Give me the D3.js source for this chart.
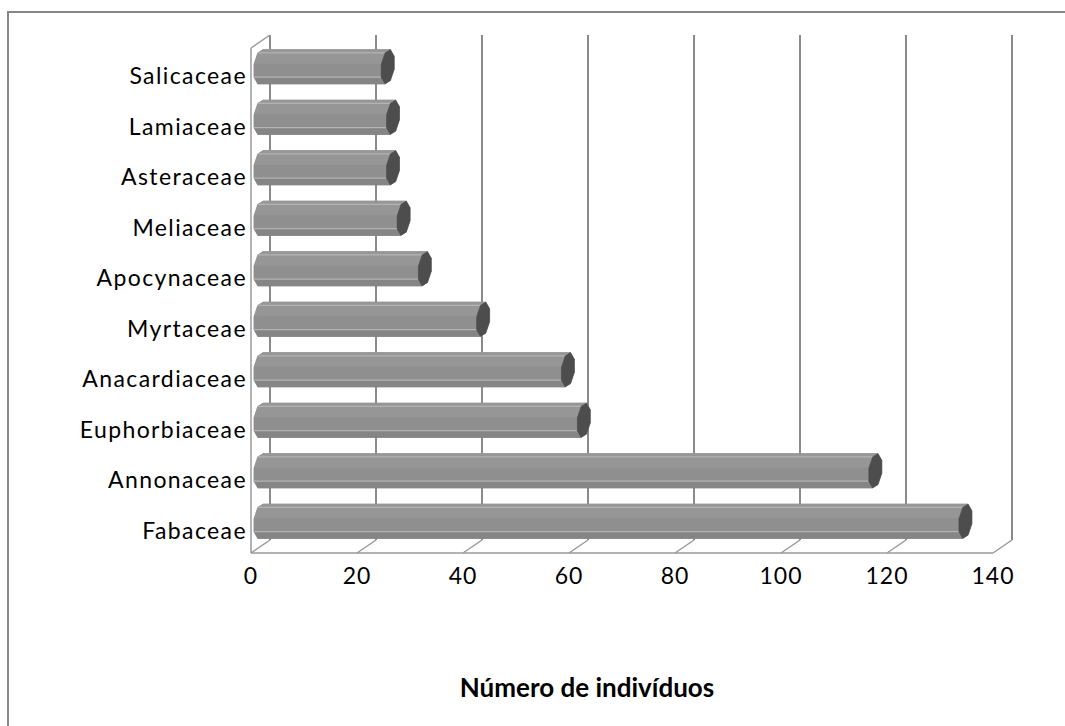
<!DOCTYPE html>
<html>
<head>
<meta charset="utf-8">
<script src="https://cdn.jsdelivr.net/npm/d3@7"></script>
<style>
  html, body { margin: 0; padding: 0; background: #ffffff; }
  svg { display: block; }
  text { font-family: Lato, "Liberation Sans", sans-serif; fill: #000; }
</style>
</head>
<body>
<svg id="chart" width="1065" height="726"></svg>
<script>
// Families and number of individuals per family
const categories = ["Fabaceae", "Annonaceae", "Euphorbiaceae", "Anacardiaceae", "Myrtaceae",
                    "Apocynaceae", "Meliaceae", "Asteraceae", "Lamiaceae", "Salicaceae"];
const counts = [133, 116, 61, 58, 42, 31, 27, 25, 25, 24];
const xTicks = [0, 20, 40, 60, 80, 100, 120, 140];
const axisTitle = "Número de indivíduos";

const W = 1065, H = 726;
const svg = d3.select("#chart");

// Outer chart frame
svg.append("rect")
  .attr("x", 8).attr("y", 12)
  .attr("width", W + 10).attr("height", H + 10)
  .attr("fill", "none").attr("stroke", "#878787").attr("stroke-width", 2);

// Front plane of the 3D plot box and its depth offset (oblique projection)
const front = { left: 251, right: 993, top: 48, bottom: 553 };
const depth = { dx: 19, dy: -13 };

const x = d3.scaleLinear().domain([0, 140]).range([front.left, front.right]);
const y = d3.scaleBand().domain(categories).range([front.bottom, front.top]);

const grid = svg.append("g");
const lineColor = "#8a8a8a";

// Back wall gridlines
grid.selectAll("line.grid").data(xTicks).join("line")
  .attr("class", "grid")
  .attr("x1", d => x(d) + depth.dx).attr("x2", d => x(d) + depth.dx)
  .attr("y1", front.top + depth.dy).attr("y2", front.bottom + depth.dy)
  .attr("stroke", lineColor).attr("stroke-width", 2);

// Floor: front edge and depth edges at each tick
grid.append("line")
  .attr("x1", x(0)).attr("x2", x(140))
  .attr("y1", front.bottom).attr("y2", front.bottom)
  .attr("stroke", "#9a9a9a").attr("stroke-width", 1.5);
grid.selectAll("line.floor").data(xTicks).join("line")
  .attr("class", "floor")
  .attr("x1", d => x(d)).attr("x2", d => x(d) + depth.dx)
  .attr("y1", front.bottom).attr("y2", front.bottom + depth.dy)
  .attr("stroke", "#9a9a9a").attr("stroke-width", 1.5);

// Side wall: front edge and top depth edge
grid.append("line")
  .attr("x1", x(0)).attr("x2", x(0))
  .attr("y1", front.top).attr("y2", front.bottom)
  .attr("stroke", "#9a9a9a").attr("stroke-width", 1.5);
grid.append("line")
  .attr("x1", x(0)).attr("x2", x(0) + depth.dx)
  .attr("y1", front.top).attr("y2", front.top + depth.dy)
  .attr("stroke", "#9a9a9a").attr("stroke-width", 1.5);

// Octagonal cylinder bars
const R = 15.5;                 // half thickness on screen
const dz = { dx: 6.5, dy: -4 }; // screen offset of the bar's depth radius
const kOct = 1 / Math.cos(Math.PI / 8);
const verts = d3.range(8).map(i => {
  const th = Math.PI / 8 + i * Math.PI / 4; // from +y (up) toward the back
  const c = Math.cos(th) * kOct, s = Math.sin(th) * kOct;
  return { ox: s * dz.dx, oy: -c * R + s * dz.dy, w: s };
});
const faceColor = phi => {
  // phi: normal angle, 0 = up, 3/2 pi = toward viewer
  const ny = Math.cos(phi), nw = Math.sin(phi);
  const v = 139 + 12 * ny - 4 * nw;
  return d3.rgb(v, v, v).formatHex();
};

const bars = svg.append("g");
categories.forEach((cat, i) => {
  const cy = y(cat) + y.bandwidth() / 2 + depth.dy / 2;
  const x0 = x(0) + depth.dx / 2;
  const x1 = x(counts[i]) + depth.dx / 2;
  const g = bars.append("g");

  // left end
  g.append("polygon")
    .attr("points", verts.map(v => [x0 + v.ox, cy + v.oy].join(",")).join(" "))
    .attr("fill", "#8e8e8e").attr("stroke", "#8e8e8e").attr("stroke-width", 0.5);

  // side faces, back to front
  const faces = d3.range(8).map(j => {
    const a = verts[j], b = verts[(j + 1) % 8];
    const phi = (j + 1) * Math.PI / 4;
    return { a, b, phi, w: (a.w + b.w) / 2 };
  }).sort((p, q) => q.w - p.w);
  faces.forEach(f => {
    const pts = [[x0 + f.a.ox, cy + f.a.oy], [x1 + f.a.ox, cy + f.a.oy],
                 [x1 + f.b.ox, cy + f.b.oy], [x0 + f.b.ox, cy + f.b.oy]];
    const col = faceColor(f.phi);
    g.append("polygon").attr("points", pts.map(p => p.join(",")).join(" "))
      .attr("fill", col).attr("stroke", col).attr("stroke-width", 0.5);
  });

  // highlight edges along the bar
  [7, 5].forEach(j => {
    const v = verts[j];
    g.append("line")
      .attr("x1", x0 + v.ox).attr("x2", x1 + v.ox)
      .attr("y1", cy + v.oy).attr("y2", cy + v.oy)
      .attr("stroke", "#b3b3b3").attr("stroke-width", 1.2);
  });

  // end cap
  g.append("polygon")
    .attr("points", verts.map(v => [x1 + v.ox, cy + v.oy].join(",")).join(" "))
    .attr("fill", "#4d4d4d").attr("stroke", "#4d4d4d").attr("stroke-width", 0.5);
});

// Category labels
svg.append("g").selectAll("text").data(categories).join("text")
  .attr("x", front.left - 4)
  .attr("y", d => y(d) + y.bandwidth() / 2 + 11)
  .attr("text-anchor", "end")
  .attr("font-size", 23)
  .attr("letter-spacing", 1.4)
  .text(d => d);

// Value axis tick labels
svg.append("g").selectAll("text").data(xTicks).join("text")
  .attr("x", d => x(d))
  .attr("y", front.bottom + 31)
  .attr("text-anchor", "middle")
  .attr("font-size", 23)
  .attr("letter-spacing", 1)
  .text(d => d);

// Axis title
svg.append("text")
  .attr("x", 587).attr("y", 697)
  .attr("text-anchor", "middle")
  .attr("font-size", 26)
  .attr("font-weight", "bold")
  .text(axisTitle);
</script>
</body>
</html>
